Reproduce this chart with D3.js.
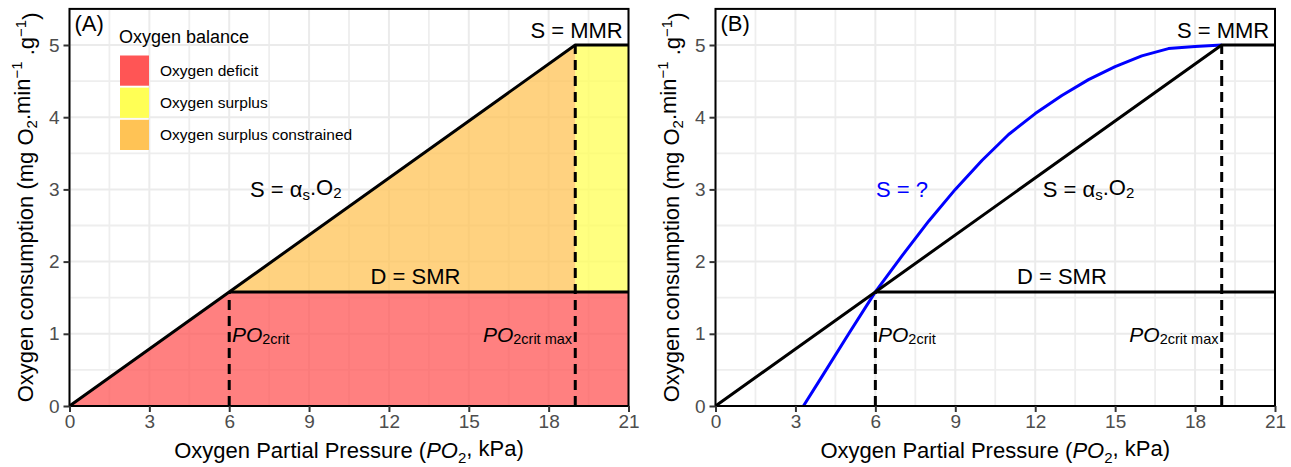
<!DOCTYPE html>
<html>
<head>
<meta charset="utf-8">
<script src="https://cdn.jsdelivr.net/npm/d3@7"></script>
<style>
  html, body { margin: 0; padding: 0; background: #fff; }
  svg { display: block; }
  text { font-family: "Liberation Sans", Arial, Helvetica, sans-serif; }
</style>
</head>
<body>
<svg id="chart" width="1291" height="467"></svg>
<script>
// ---------------- data ----------------
const xTicks = [0, 3, 6, 9, 12, 15, 18, 21];
const yTicks = [0, 1, 2, 3, 4, 5];
const xDomain = [0, 21];
const yDomain = [0, 5.5];

const SMR = 1.58;          // D = SMR
const MMR = 5;             // S = MMR
const PO2crit = 6;
const PO2critMax = 19;
const xMax = 21;

// balance regions (panel A)
const regionNames = ["Oxygen deficit", "Oxygen surplus", "Oxygen surplus constrained"];
const regionColors = ["#FF5555", "#FFFF55", "#FFC355"];
const deficitPoly = [[0, 0], [PO2crit, SMR], [xMax, SMR], [xMax, 0]];
const constrainedPoly = [[PO2crit, SMR], [PO2critMax, MMR], [PO2critMax, SMR]];
const surplusPoly = [[PO2critMax, SMR], [PO2critMax, MMR], [xMax, MMR], [xMax, SMR]];

// supply & demand lines
const supplyLine = [[0, 0], [PO2critMax, MMR], [xMax, MMR]];
const demandLine = [[PO2crit, SMR], [xMax, SMR]];

// unknown supply curve (panel B)
const curveX = [3.3, 4, 5, 6, 7, 8, 9, 10, 11, 12, 13, 14, 15, 16, 17, 18, 19];
const curveY = [0, 0.41, 1.0, 1.58, 2.08, 2.56, 3.0, 3.4, 3.76, 4.05, 4.3, 4.52, 4.7, 4.85, 4.95, 4.98, 5.0];

// ---------------- drawing ----------------
const svg = d3.select("#chart");
const FONT = "'Liberation Sans', Arial, Helvetica, sans-serif";
const yScale = d3.scaleLinear().domain(yDomain).range([406, 8.9]);

function subText(sel, parts) {
  // parts: [{t, sub, sup, italic, size}]
  parts.forEach(p => {
    const ts = sel.append("tspan").text(p.t);
    if (p.italic) ts.attr("font-style", "italic");
    if (p.size) ts.attr("font-size", p.size);
    if (p.sub) ts.attr("dy", p.sub);
    if (p.sup) ts.attr("dy", p.sup);
  });
  return sel;
}

function panel(opts) {
  const x = d3.scaleLinear().domain(xDomain).range(opts.xRange);
  const y = yScale;
  const g = svg.append("g");
  const [x0, x1] = opts.xRange;
  const [y0, y1] = [y(yDomain[1]), y(yDomain[0])];

  // grid
  const minorX = d3.range(0, 21.01, 1.5).filter(v => v % 3 !== 0);
  const minorY = d3.range(0, 5.51, 0.5).filter(v => v % 1 !== 0);
  g.selectAll(".gmx").data(minorX).join("line")
    .attr("x1", d => x(d)).attr("x2", d => x(d)).attr("y1", y0).attr("y2", y1)
    .attr("stroke", "#EEEEEE").attr("stroke-width", 1.8);
  g.selectAll(".gmy").data(minorY).join("line")
    .attr("y1", d => y(d)).attr("y2", d => y(d)).attr("x1", x0).attr("x2", x1)
    .attr("stroke", "#EEEEEE").attr("stroke-width", 1.8);
  g.selectAll(".gMx").data(xTicks).join("line")
    .attr("x1", d => x(d)).attr("x2", d => x(d)).attr("y1", y0).attr("y2", y1)
    .attr("stroke", "#EBEBEB").attr("stroke-width", 2);
  g.selectAll(".gMy").data(yTicks).join("line")
    .attr("y1", d => y(d)).attr("y2", d => y(d)).attr("x1", x0).attr("x2", x1)
    .attr("stroke", "#EBEBEB").attr("stroke-width", 2);

  const line = d3.line().x(d => x(d[0])).y(d => y(d[1]));

  if (opts.fills) {
    const polys = [deficitPoly, surplusPoly, constrainedPoly];
    polys.forEach((p, i) => {
      g.append("path").attr("d", line(p) + "Z")
        .attr("fill", regionColors[i]).attr("fill-opacity", 0.75).attr("stroke", "none");
    });
  }

  if (opts.curve) {
    const pts = curveX.map((v, i) => [v, curveY[i]]);
    g.append("path").attr("d", line(pts)).attr("fill", "none")
      .attr("stroke", "#0000FF").attr("stroke-width", 3).attr("stroke-linejoin", "round");
  }

  // supply / demand lines
  g.append("path").attr("d", line(supplyLine)).attr("fill", "none")
    .attr("stroke", "#000").attr("stroke-width", 3).attr("stroke-linejoin", "round");
  g.append("path").attr("d", line(demandLine)).attr("fill", "none")
    .attr("stroke", "#000").attr("stroke-width", 3);

  // dashed verticals
  [[PO2crit, SMR], [PO2critMax, MMR]].forEach(([xv, yv]) => {
    g.append("line").attr("x1", x(xv)).attr("x2", x(xv)).attr("y1", y(0)).attr("y2", y(yv))
      .attr("stroke", "#000").attr("stroke-width", 3).attr("stroke-dasharray", "10,6");
  });

  // labels
  const lab = (xv, yv, anchor, color) => g.append("text")
    .attr("x", x(xv)).attr("y", y(yv)).attr("text-anchor", anchor)
    .attr("dominant-baseline", "central").attr("font-size", 22).attr("fill", color || "#000");

  lab(19.05, 5.2, "middle").text("S = MMR");
  subText(lab(opts.alphaX, 3.0, "middle"), [
    { t: "S = α" }, { t: "s", size: 15, sub: "0.3em" }, { t: ".O", sub: "-0.3em" },
    { t: "2", size: 15, sub: "0.3em" }]);
  lab(13, 1.8, "middle").text("D = SMR");
  if (opts.curve) lab(7, 3.0, "middle", "#0000FF").text("S = ?");

  const po = (xv, anchor, suffix) => {
    const t = g.append("text").attr("x", x(xv)).attr("y", y(1.0)).attr("text-anchor", anchor)
      .attr("dominant-baseline", "central").attr("font-size", 21);
    subText(t, [{ t: "PO", italic: true }, { t: suffix, size: 14.5, sub: "0.35em" }]);
  };
  po(PO2crit + 0.1, "start", "2crit");
  po(PO2critMax - 0.12, "end", "2crit max");

  // tag
  g.append("text").attr("x", x0 + 5).attr("y", 31).attr("font-size", 22).text(opts.tag);

  // border
  g.append("rect").attr("x", x0).attr("y", y0).attr("width", x1 - x0).attr("height", y1 - y0)
    .attr("fill", "none").attr("stroke", "#000").attr("stroke-width", 2);

  // axes
  const xAxis = d3.axisBottom(x).tickValues(xTicks).tickSize(6).tickPadding(3).tickFormat(d3.format("d"));
  const yAxis = d3.axisLeft(y).tickValues(yTicks).tickSize(6).tickPadding(4).tickFormat(d3.format("d"));
  const gx = g.append("g").attr("transform", `translate(0,${y1})`).call(xAxis);
  const gy = g.append("g").attr("transform", `translate(${x0},0)`).call(yAxis);
  [gx, gy].forEach(a => {
    a.select(".domain").remove();
    a.selectAll(".tick line").attr("stroke", "#333333").attr("stroke-width", 2);
    a.selectAll(".tick text").attr("fill", "#4D4D4D").attr("font-size", 19).attr("font-family", FONT);
  });

  // axis titles
  const xt = g.append("text").attr("x", (x0 + x1) / 2).attr("y", 458).attr("text-anchor", "middle")
    .attr("font-size", 22);
  subText(xt, [{ t: "Oxygen Partial Pressure (" }, { t: "PO", italic: true },
    { t: "2", size: 15, sub: "0.3em" }, { t: ", kPa)", sub: "-0.3em" }]);
  const yt = g.append("text").attr("transform", `translate(${x0 - 37},${(y0 + y1) / 2}) rotate(-90)`)
    .attr("text-anchor", "middle").attr("font-size", 22);
  subText(yt, [{ t: "Oxygen consumption (mg O" }, { t: "2", size: 15, sub: "0.3em" },
    { t: ".min", sub: "-0.3em" }, { t: "−1", size: 15, sup: "-0.55em" },
    { t: " .g", sub: "0.55em" }, { t: "−1", size: 15, sup: "-0.55em" }, { t: ")", sub: "0.55em" }]);

  // legend
  if (opts.legend) {
    const lg = g.append("g");
    lg.append("text").attr("x", 119).attr("y", 43).attr("font-size", 18).text("Oxygen balance");
    const keyY = d3.scaleBand().domain(regionNames).range([55.5, 150]).paddingInner(0.06);
    regionNames.forEach((n, i) => {
      lg.append("rect").attr("x", 120).attr("y", keyY(n)).attr("width", 29).attr("height", keyY.bandwidth())
        .attr("fill", regionColors[i]);
      lg.append("text").attr("x", 160).attr("y", keyY(n) + keyY.bandwidth() / 2)
        .attr("dominant-baseline", "central").attr("font-size", 15.5).text(n);
    });
  }
}

panel({ xRange: [69.5, 628.5], tag: "(A)", fills: true, legend: true, alphaX: 8.5 });
panel({ xRange: [715.5, 1275], tag: "(B)", curve: true, alphaX: 14 });
</script>
</body>
</html>
